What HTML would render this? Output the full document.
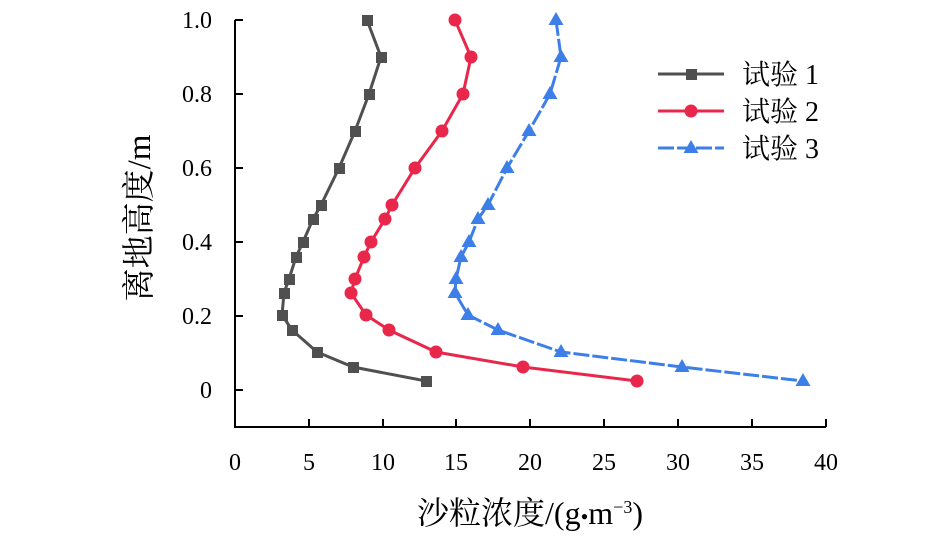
<!DOCTYPE html>
<html><head><meta charset="utf-8"><style>body{margin:0;background:#fff}</style></head><body>
<svg width="945" height="536" xmlns="http://www.w3.org/2000/svg" font-family="Liberation Serif, Noto Serif CJK SC, serif" font-size="24">
<g stroke="#000" stroke-width="2" fill="none">
<path d="M235,20V427H826"/>
<path d="M235,20h8M235,94h8M235,168h8M235,242h8M235,316h8M235,390h8"/>
<path d="M309,427v-8M383,427v-8M456,427v-8M530,427v-8M604,427v-8M678,427v-8M752,427v-8M826,427v-8"/>
</g>
<g text-anchor="end">
<text x="212" y="28">1.0</text><text x="212" y="102">0.8</text><text x="212" y="176">0.6</text><text x="212" y="250">0.4</text><text x="212" y="324">0.2</text><text x="212" y="398">0</text>
</g>
<g text-anchor="middle">
<text x="235" y="470">0</text><text x="309" y="470">5</text><text x="383" y="470">10</text><text x="456" y="470">15</text><text x="530" y="470">20</text><text x="604" y="470">25</text><text x="678" y="470">30</text><text x="752" y="470">35</text><text x="826" y="470">40</text>
<text x="530" y="524" font-size="32">沙粒浓度/(g<tspan font-size="22">•</tspan>m<tspan font-size="18" dy="-11">−3</tspan><tspan dy="11">)</tspan></text>
<text transform="translate(150,218) rotate(-90)" font-size="33">离地高度/m</text>
</g>
<polyline fill="none" stroke="#505050" stroke-width="3" points="367,20 381,57 369,94 355,131 339,168 321,205 313,219 303,242 296,257 289,279 284,293 282,315 292,330 317,352 353,367 426,381"/>
<g fill="#505050">
<path d="M362,15h11v11h-11zM376,52h11v11h-11zM364,89h11v11h-11zM350,126h11v11h-11zM334,163h11v11h-11zM316,200h11v11h-11zM308,214h11v11h-11zM298,237h11v11h-11zM291,252h11v11h-11zM284,274h11v11h-11zM279,288h11v11h-11zM277,310h11v11h-11zM287,325h11v11h-11zM312,347h11v11h-11zM348,362h11v11h-11zM421,376h11v11h-11z"/>
</g>
<polyline fill="none" stroke="#e8274b" stroke-width="3" points="455,20 471,57 463,94 442,131 415,168 392,205 385,219 371,242 364,257 355,279 351,293 366,315 389,330 436,352 523,367 637,381"/>
<g fill="#e8274b">
<circle cx="455" cy="20" r="6.5"/><circle cx="471" cy="57" r="6.5"/><circle cx="463" cy="94" r="6.5"/><circle cx="442" cy="131" r="6.5"/><circle cx="415" cy="168" r="6.5"/><circle cx="392" cy="205" r="6.5"/><circle cx="385" cy="219" r="6.5"/><circle cx="371" cy="242" r="6.5"/><circle cx="364" cy="257" r="6.5"/><circle cx="355" cy="279" r="6.5"/><circle cx="351" cy="293" r="6.5"/><circle cx="366" cy="315" r="6.5"/><circle cx="389" cy="330" r="6.5"/><circle cx="436" cy="352" r="6.5"/><circle cx="523" cy="367" r="6.5"/><circle cx="637" cy="381" r="6.5"/>
</g>
<polyline fill="none" stroke="#3d7fe8" stroke-width="3" stroke-dasharray="16,3" points="556,20 561,57 550,94 529,131 507,168 488,205 478,219 469,242 461,257 456,279 455,293 468,315 498,330 561,352 682,367 803,381"/>
<g fill="#3d7fe8">
<path d="M556,12l7.5,13h-15zM561,49l7.5,13h-15zM550,86l7.5,13h-15zM529,123l7.5,13h-15zM507,160l7.5,13h-15zM488,197l7.5,13h-15zM478,211l7.5,13h-15zM469,234l7.5,13h-15zM461,249l7.5,13h-15zM456,271l7.5,13h-15zM455,285l7.5,13h-15zM468,307l7.5,13h-15zM498,322l7.5,13h-15zM561,344l7.5,13h-15zM682,359l7.5,13h-15zM803,373l7.5,13h-15z"/>
</g>
<line x1="658" y1="74" x2="724" y2="74" stroke="#505050" stroke-width="3"/><rect x="686" y="69" width="11" height="11" fill="#505050"/>
<line x1="658" y1="111" x2="724" y2="111" stroke="#e8274b" stroke-width="3"/><circle cx="691" cy="111" r="6.5" fill="#e8274b"/>
<line x1="658" y1="148" x2="724" y2="148" stroke="#3d7fe8" stroke-width="3" stroke-dasharray="16,3"/><path d="M691,140l7.5,13h-15z" fill="#3d7fe8"/>
<g font-size="28"><text x="742" y="84">试验 1</text><text x="742" y="121">试验 2</text><text x="742" y="158">试验 3</text></g>
</svg>
</body></html>
